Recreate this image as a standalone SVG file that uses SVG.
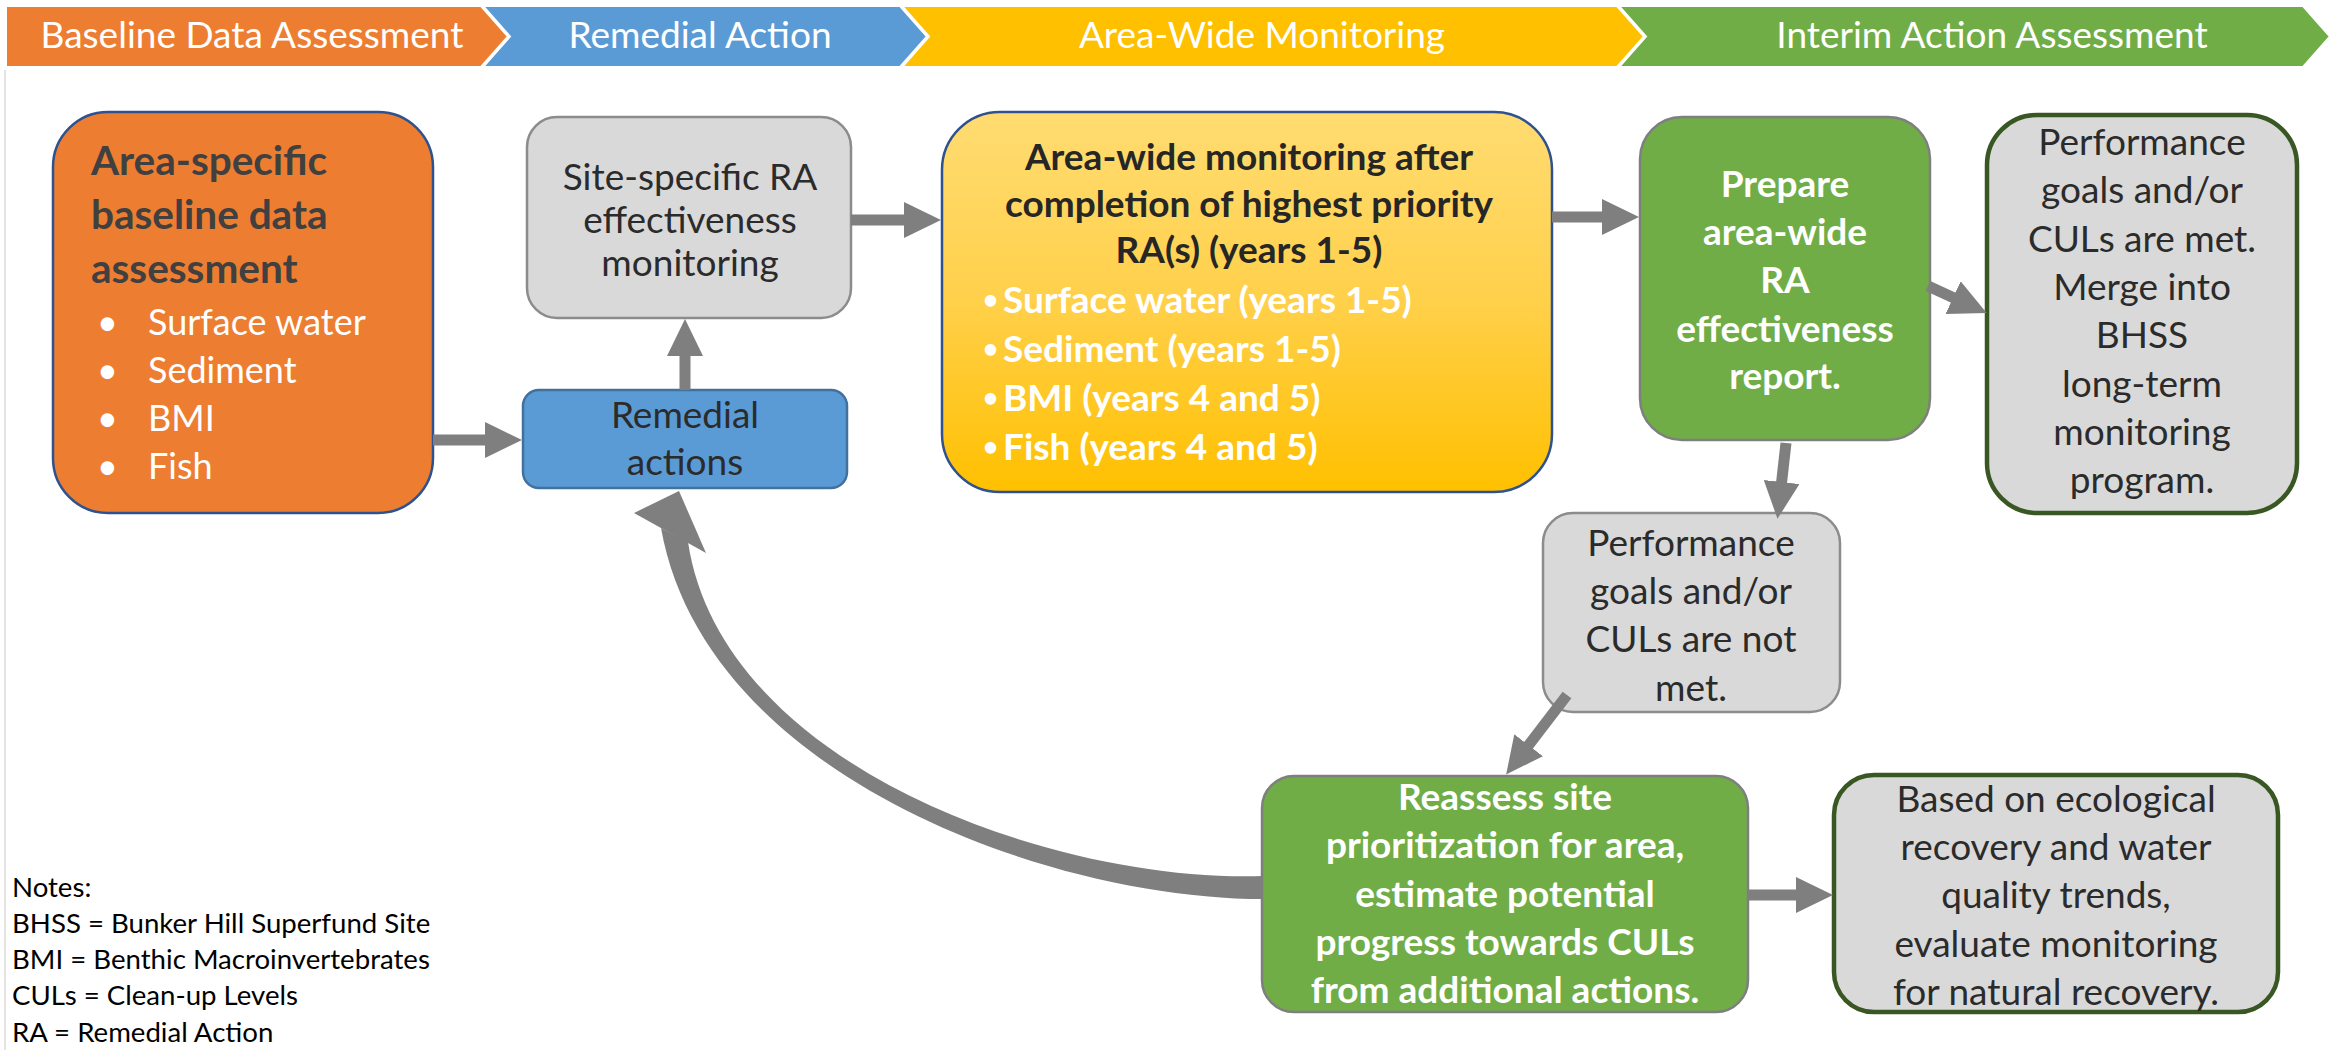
<svg xmlns="http://www.w3.org/2000/svg" width="2331" height="1050" viewBox="0 0 2331 1050">
<style>
text{font-family:Lato,"Liberation Sans",sans-serif;}
.ban{font-size:37px;fill:#fff;text-anchor:middle;}
.reg{font-size:37px;fill:#2B2B2B;text-anchor:middle;}
.bld{font-size:37px;font-weight:bold;fill:#fff;text-anchor:middle;}
.dbld{font-size:37px;font-weight:bold;fill:#262626;text-anchor:middle;}
.ybul{font-size:37px;font-weight:bold;fill:#fff;}
.ydot{font-size:26px;font-weight:bold;fill:#fff;}
.otitle{font-size:40.5px;font-weight:bold;fill:#404040;}
.obul{font-size:36px;fill:#fff;}
.note{font-size:27.6px;fill:#000;}
.gray{fill:#D9D9D9;stroke:#8C8C8C;stroke-width:2.5;}
.dg{fill:#D9D9D9;stroke:#385723;stroke-width:4.5;}
.grn{fill:#70AD47;stroke:#7F7F7F;stroke-width:2.5;}
.conn{stroke:#7F7F7F;stroke-width:11;fill:none;marker-end:url(#ah);}
</style>
<defs>
<marker id="ah" viewBox="0 0 37 36" refX="1" refY="18" markerWidth="37" markerHeight="36" markerUnits="userSpaceOnUse" orient="auto">
<path d="M0,0 L37,18 L0,36 z" fill="#7F7F7F"/>
</marker>
<linearGradient id="yg" x1="0" y1="0" x2="0" y2="1">
<stop offset="0" stop-color="#FFDC72"/>
<stop offset="0.5" stop-color="#FFD04A"/>
<stop offset="1" stop-color="#FFC000"/>
</linearGradient>
</defs>
<rect width="2331" height="1050" fill="#fff"/>
<line x1="5" y1="70" x2="5" y2="1050" stroke="#E4E4E4" stroke-width="2"/>

<g id="banner">
<polygon points="6,6 481,6 508,36.5 481,67 6,67" fill="#ED7D31" stroke="#fff" stroke-width="2"/>
<polygon points="483,6 900,6 927,36.5 900,67 483,67 510,36.5" fill="#5B9BD5" stroke="#fff" stroke-width="2"/>
<polygon points="902,6 1617,6 1644,36.5 1617,67 902,67 929,36.5" fill="#FFC000" stroke="#fff" stroke-width="2"/>
<polygon points="1619,6 2303,6 2330,36.5 2303,67 1619,67 1646,36.5" fill="#70AD47" stroke="#fff" stroke-width="2"/>
<text class="ban" x="252" y="48">Baseline Data Assessment</text>
<text class="ban" x="700" y="48">Remedial Action</text>
<text class="ban" x="1262" y="48">Area-Wide Monitoring</text>
<text class="ban" x="1992" y="48">Interim Action Assessment</text>
</g>

<g id="baseline">
<rect x="53" y="112" width="380" height="401" rx="55" fill="#ED7D31" stroke="#2F528F" stroke-width="2.5"/>
<text class="otitle" x="91" y="175">Area-specific</text>
<text class="otitle" x="91" y="229">baseline data</text>
<text class="otitle" x="91" y="283">assessment</text>
<text class="obul" x="97" y="335">•</text><text class="obul" x="148" y="335">Surface water</text>
<text class="obul" x="97" y="383">•</text><text class="obul" x="148" y="383">Sediment</text>
<text class="obul" x="97" y="431">•</text><text class="obul" x="148" y="431">BMI</text>
<text class="obul" x="97" y="479">•</text><text class="obul" x="148" y="479">Fish</text>
</g>

<g id="site-specific">
<rect class="gray" x="527" y="117" width="324" height="201" rx="30"/>
<text class="reg" x="690" y="190">Site-specific RA</text>
<text class="reg" x="690" y="233">effectiveness</text>
<text class="reg" x="690" y="276">monitoring</text>
</g>

<g id="remedial">
<rect x="523" y="390" width="324" height="98" rx="16" fill="#5B9BD5" stroke="#41719C" stroke-width="2.5"/>
<text class="reg" x="685" y="428">Remedial</text>
<text class="reg" x="685" y="475">actions</text>
</g>

<g id="areawide">
<rect x="942" y="112" width="610" height="380" rx="58" fill="url(#yg)" stroke="#2F528F" stroke-width="2.5"/>
<text class="dbld" x="1249" y="170">Area-wide monitoring after</text>
<text class="dbld" x="1249" y="217">completion of highest priority</text>
<text class="dbld" x="1249" y="263">RA(s) (years 1-5)</text>
<text class="ydot" x="983" y="309">•</text><text class="ybul" x="1003" y="313">Surface water (years 1-5)</text>
<text class="ydot" x="983" y="358">•</text><text class="ybul" x="1003" y="362">Sediment (years 1-5)</text>
<text class="ydot" x="983" y="407">•</text><text class="ybul" x="1003" y="411">BMI (years 4 and 5)</text>
<text class="ydot" x="983" y="456">•</text><text class="ybul" x="1003" y="460">Fish (years 4 and 5)</text>
</g>

<g id="prepare">
<rect class="grn" x="1640" y="117" width="290" height="323" rx="42"/>
<text class="bld" x="1785" y="197">Prepare</text>
<text class="bld" x="1785" y="245">area-wide</text>
<text class="bld" x="1785" y="293">RA</text>
<text class="bld" x="1785" y="342">effectiveness</text>
<text class="bld" x="1785" y="389">report.</text>
</g>

<g id="met">
<rect class="dg" x="1987" y="115" width="310" height="398" rx="50"/>
<text class="reg" x="2142" y="155">Performance</text>
<text class="reg" x="2142" y="203">goals and/or</text>
<text class="reg" x="2142" y="252">CULs are met.</text>
<text class="reg" x="2142" y="300">Merge into</text>
<text class="reg" x="2142" y="348">BHSS</text>
<text class="reg" x="2142" y="397">long-term</text>
<text class="reg" x="2142" y="445">monitoring</text>
<text class="reg" x="2142" y="493">program.</text>
</g>

<g id="notmet">
<rect class="gray" x="1543" y="513" width="297" height="199" rx="30"/>
<text class="reg" x="1691" y="556">Performance</text>
<text class="reg" x="1691" y="604">goals and/or</text>
<text class="reg" x="1691" y="652">CULs are not</text>
<text class="reg" x="1691" y="701">met.</text>
</g>

<g id="reassess">
<rect class="grn" x="1262" y="776" width="486" height="236" rx="32"/>
<text class="bld" x="1505" y="810">Reassess site</text>
<text class="bld" x="1505" y="858">prioritization for area,</text>
<text class="bld" x="1505" y="907">estimate potential</text>
<text class="bld" x="1505" y="955">progress towards CULs</text>
<text class="bld" x="1505" y="1003">from additional actions.</text>
</g>

<g id="natural">
<rect class="dg" x="1834" y="775" width="444" height="237" rx="40"/>
<text class="reg" x="2056" y="812">Based on ecological</text>
<text class="reg" x="2056" y="860">recovery and water</text>
<text class="reg" x="2056" y="908">quality trends,</text>
<text class="reg" x="2056" y="957">evaluate monitoring</text>
<text class="reg" x="2056" y="1005">for natural recovery.</text>
</g>

<g id="notes">
<text class="note" x="12" y="897">Notes:</text>
<text class="note" x="12" y="933">BHSS = Bunker Hill Superfund Site</text>
<text class="note" x="12" y="969">BMI = Benthic Macroinvertebrates</text>
<text class="note" x="12" y="1005">CULs = Clean-up Levels</text>
<text class="note" x="12" y="1042">RA = Remedial Action</text>
</g>

<g id="connectors">
<line class="conn" x1="433" y1="440" x2="486" y2="440"/>
<line class="conn" x1="685" y1="390" x2="685" y2="355"/>
<line class="conn" x1="851" y1="220" x2="905" y2="220"/>
<line class="conn" x1="1552" y1="217" x2="1603" y2="217"/>
<line class="conn" x1="1928" y1="286" x2="1954" y2="298"/>
<line class="conn" x1="1786" y1="443" x2="1781.5" y2="483"/>
<line class="conn" x1="1567" y1="695" x2="1528" y2="746"/>
<line class="conn" x1="1748" y1="895" x2="1797" y2="895"/>
<path d="M1263,899 C1050,899 705,776 661,528 L688,542 C722,768 1057,883 1263,876 Z" fill="#7F7F7F"/>
<polygon points="634,513 679,491 706,553" fill="#7F7F7F"/>
</g>
</svg>
